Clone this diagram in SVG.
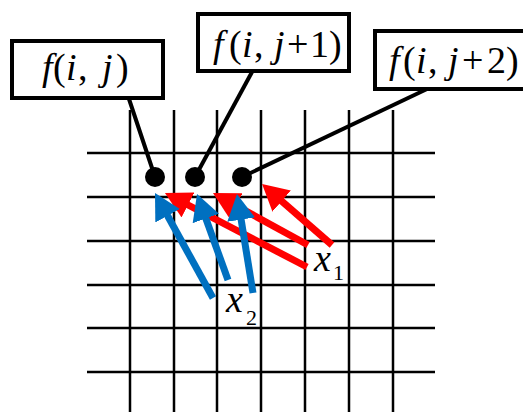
<svg xmlns="http://www.w3.org/2000/svg" width="523" height="412" viewBox="0 0 523 412">
<style>
.grid line{stroke:#000;stroke-width:2.5}
.box{fill:#fff;stroke:#000;stroke-width:4}
.lead{stroke:#000;stroke-width:4;fill:none}
.dot{fill:#000}
text{font-family:"Times New Roman","Liberation Serif","DejaVu Serif",serif;font-size:38px;fill:#000}
.it{font-style:italic}
.sub{font-size:22px}
.red{stroke:#FF0000;stroke-width:7;fill:none;marker-end:url(#hr)}
.blue{stroke:#0070C0;stroke-width:7;fill:none;marker-end:url(#hb)}
</style>
<defs>
<marker id="hr" markerUnits="userSpaceOnUse" viewBox="0 0 26 28" markerWidth="26" markerHeight="28" refX="14" refY="14" orient="auto"><path d="M0,0 L26,14 L0,28 z" fill="#FF0000"/></marker>
<marker id="hb" markerUnits="userSpaceOnUse" viewBox="0 0 26 28" markerWidth="26" markerHeight="28" refX="14" refY="14" orient="auto"><path d="M0,0 L26,14 L0,28 z" fill="#0070C0"/></marker>
</defs>
<rect width="523" height="412" fill="#fff"/>
<g id="grid" class="grid">
<line x1="130" y1="110" x2="130" y2="412"/>
<line x1="174" y1="110" x2="174" y2="412"/>
<line x1="217" y1="110" x2="217" y2="412"/>
<line x1="261" y1="110" x2="261" y2="412"/>
<line x1="305" y1="110" x2="305" y2="412"/>
<line x1="349" y1="110" x2="349" y2="412"/>
<line x1="393" y1="110" x2="393" y2="412"/>
<line x1="87" y1="153" x2="435" y2="153"/>
<line x1="87" y1="197" x2="435" y2="197"/>
<line x1="87" y1="241" x2="435" y2="241"/>
<line x1="87" y1="285" x2="435" y2="285"/>
<line x1="87" y1="328" x2="435" y2="328"/>
<line x1="87" y1="372" x2="435" y2="372"/>
</g>
<g id="connectors">
<line class="lead" x1="129" y1="99" x2="155" y2="177"/>
<line class="lead" x1="252" y1="72" x2="195" y2="177"/>
<line class="lead" x1="427" y1="89" x2="242" y2="177"/>
<line class="red" x1="307" y1="267" x2="175.6" y2="198.5"/>
<line class="red" x1="308" y1="245" x2="223.5" y2="198.8"/>
<line class="red" x1="332" y1="245" x2="271.1" y2="191.9"/>
<line class="blue" x1="213" y1="298" x2="160.8" y2="203.5"/>
<line class="blue" x1="228" y1="280" x2="201.1" y2="205.3"/>
<line class="blue" x1="253" y1="293" x2="238.9" y2="205.8"/>
</g>
<g id="dot1"><circle class="dot" cx="155" cy="177" r="10"/></g>
<g id="dot2"><circle class="dot" cx="195" cy="177" r="10"/></g>
<g id="dot3"><circle class="dot" cx="242" cy="177" r="10"/></g>
<g id="box1">
<rect class="box" x="12" y="41" width="151" height="57"/>
<text y="80"><tspan class="it" x="42">f</tspan><tspan x="53">(</tspan><tspan class="it" x="66">i</tspan><tspan x="78">,</tspan><tspan class="it" x="102">j</tspan><tspan x="116">)</tspan></text>
</g>
<g id="box2">
<rect class="box" x="198" y="14" width="151" height="57"/>
<text y="57"><tspan class="it" x="213">f</tspan><tspan x="229">(</tspan><tspan class="it" x="242">i</tspan><tspan x="254">,</tspan><tspan class="it" x="274">j</tspan><tspan x="287">+</tspan><tspan x="310">1</tspan><tspan x="329">)</tspan></text>
</g>
<g id="box3">
<rect class="box" x="375" y="31" width="151" height="58"/>
<text y="73"><tspan class="it" x="389">f</tspan><tspan x="403">(</tspan><tspan class="it" x="416">i</tspan><tspan x="428">,</tspan><tspan class="it" x="448">j</tspan><tspan x="462">+</tspan><tspan x="487">2</tspan><tspan x="506">)</tspan></text>
</g>
<g id="label-x1">
<text><tspan class="it" x="314" y="271">x</tspan><tspan class="sub" x="333" y="280">1</tspan></text>
</g>
<g id="label-x2">
<text><tspan class="it" x="226" y="312">x</tspan><tspan class="sub" x="246" y="325">2</tspan></text>
</g>
</svg>
